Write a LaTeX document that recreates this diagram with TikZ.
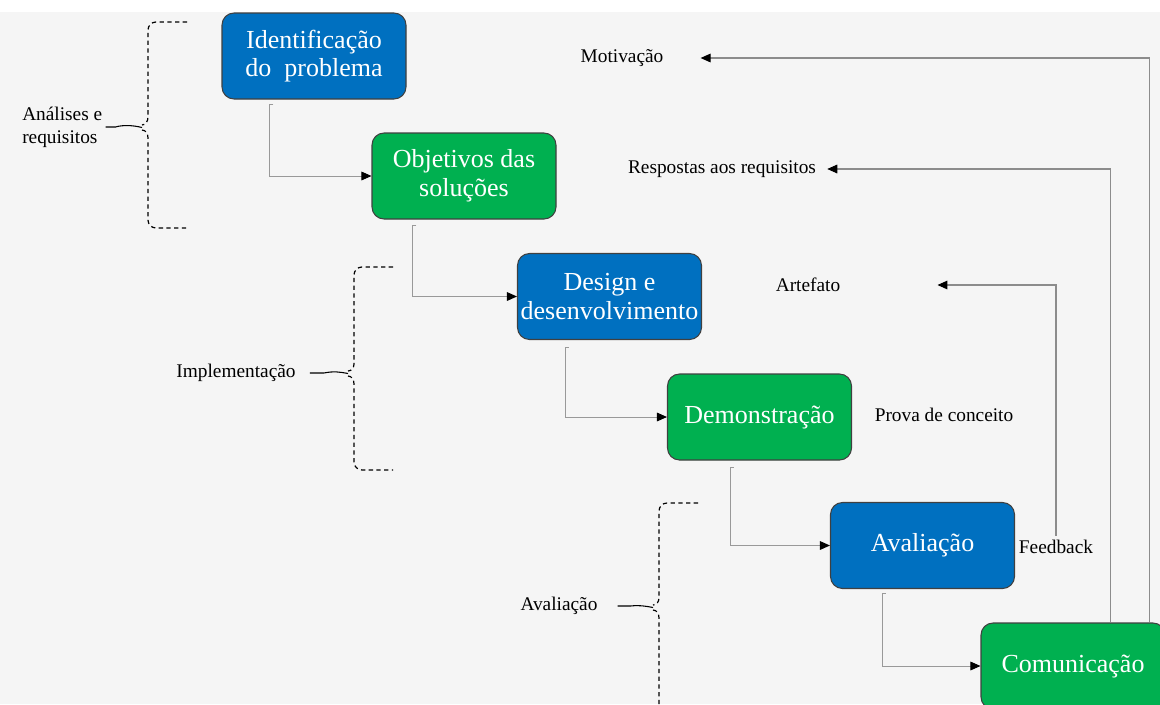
\documentclass[tikz,border=0pt]{standalone}
\usepackage{fontspec}
\setmainfont{Liberation Serif}
\usepackage{tikz}
\usetikzlibrary{calc, arrows.meta}
\definecolor{boxblue}{HTML}{0070C0}
\definecolor{boxgreen}{HTML}{00B050}
\definecolor{paper}{HTML}{F5F5F5}

\begin{document}
\begin{tikzpicture}[x=0.75pt, y=-0.75pt,
    etapa/.style={draw=black!75, line width=0.8pt, rounded corners=9pt, text=white,
        minimum width=138pt, minimum height=64.5pt, align=center, inner sep=2pt,
        font=\fontsize{19.5}{21.5}\selectfont},
    azul/.style={etapa, fill=boxblue},
    verde/.style={etapa, fill=boxgreen},
    rotulo/.style={inner sep=0pt, align=left, font=\fontsize{14.5}{17}\selectfont},
    passo/.style={draw=black!40, line width=0.7pt, -{Triangle[length=7.5pt,width=6.5pt,black]}},
    retorno/.style={draw=black!45, line width=0.8pt, -{Triangle[length=7.5pt,width=6.5pt,black]}},
    chave/.style={draw=black, line width=0.9pt, dash pattern=on 3.2pt off 2.6pt},
    ponta/.style={draw=black, line width=0.8pt}]
                \useasboundingbox (0,0) rectangle (1160,704);
                \clip (0,0) rectangle (1160,704);
                \fill[white] (0,0) rectangle (1160,704);
                \fill[paper] (0,12) rectangle (1160,704);
                \node[azul] (idp) at (314,56) {Identificação\\do\enspace problema};
                \node[verde] (obj) at (464,176) {Objetivos das\\soluções};
                \node[azul] (dsn) at (609.5,296.5) {Design e\\desenvolvimento};
                \node[verde] (dem) at (759.5,417) {Demonstração};
                \node[azul] (ava) at (922.5,545.5) {Avaliação};
                \node[verde] (com) at (1073,666) {Comunicação};
                \node[rotulo] (mot) at (622,58) {Motivação};
                \node[rotulo] (rsp) at (722,169) {Respostas aos requisitos};
                \node[rotulo] (art) at (808,285) {Artefato};
                \node[rotulo] (pdc) at (944,415) {Prova de conceito};
                \node[rotulo] (fdb) at (1056,547) {Feedback};
                \node[rotulo, anchor=west] (ane) at (22,127) {Análises e\\requisitos};
                \node[rotulo] (imp) at (236,373) {Implementação};
                \node[rotulo] (avl) at (559,606) {Avaliação};
                \draw[passo] ($(idp.south west)+(52,5)$) -- ++(-4,0) |- (obj.west);
                \draw[passo] ($(obj.south west)+(45,6)$) -- ++(-4,0) |- (dsn.west);
                \draw[passo] ($(dsn.south west)+(52,7)$) -- ++(-4,0) |- (dem.west);
                \draw[passo] ($(dem.south west)+(67,7)$) -- ++(-4,0) |- (ava.west);
                \draw[passo] ($(ava.south west)+(56,4)$) -- ++(-4,0) |- (com.west);
                \draw[retorno] ($(com.north west)+(169,0)$) |- ($(mot.east)+(37,0)$);
                \draw[retorno] ($(com.north west)+(130,0)$) |- ($(rsp.east)+(11,0)$);
                \draw[retorno] ($(fdb.north)+(0,-4)$) |- ($(art.east)+(97,0)$);
                \draw[chave] (187,22) -- (156,22) to[out=180,in=90] (148,30) -- (148,117) to[out=-90,in=0] (142,125);
                \draw[chave] (142,130) to[out=0,in=90] (148,138) -- (148,220) to[out=-90,in=180] (156,228) -- (187,228);
                \draw[ponta] (ane.east) ++(3,0) -- ++(10,0) .. controls (122,125) and (132,125) .. (142,127.5);
                \draw[chave] (393,267) -- (362,267) to[out=180,in=90] (354,275) -- (354,364) to[out=-90,in=0] (348,371);
                \draw[chave] (348,376) to[out=0,in=90] (354,384) -- (354,462) to[out=-90,in=180] (362,470) -- (393,470);
                \draw[ponta] (imp.east) ++(14,0) -- ++(14,0) .. controls (334,371) and (340,372) .. (348,373.5);
                \draw[chave] (698,503) -- (667,503) to[out=180,in=90] (659,511) -- (659,598) to[out=-90,in=0] (653,605);
                \draw[chave] (653,610) to[out=0,in=90] (659,618) -- (659,720);
                \draw[ponta] (avl.east) ++(20,0) -- ++(13,0) .. controls (639,605) and (645,606) .. (653,607.5);
            \end{tikzpicture}
\end{document}
